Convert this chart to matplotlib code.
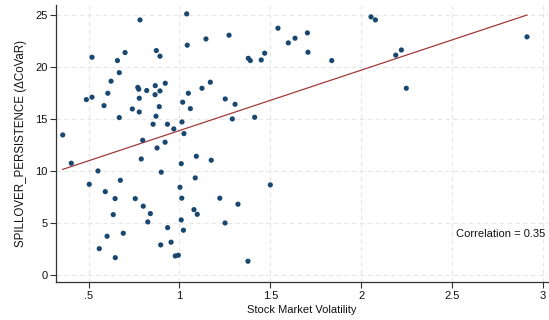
import numpy as np
import matplotlib
matplotlib.use("Agg")
import matplotlib.pyplot as plt

plt.rcParams['font.family'] = ['Liberation Sans', 'DejaVu Sans']

volatility = [0.358, 1.040, 0.783, 1.146, 1.043, 0.519, 0.701, 0.659, 0.873, 0.893,
              0.669, 0.624, 1.170, 0.922, 0.771, 0.776, 0.867, 1.124, 0.820, 0.893,
              0.606, 1.049, 0.866, 0.519, 0.488, 0.779, 1.018, 0.585, 0.889, 1.060,
              0.741, 0.779, 0.669, 0.871, 0.855, 0.934, 0.969, 1.014, 1.025, 0.798,
              0.877, 0.921,
              1.273, 1.542, 1.599, 1.636, 1.704, 1.707, 1.838, 1.379, 1.390, 1.450,
              1.469, 1.252, 1.306, 1.291, 1.414,
              2.054, 2.078, 2.190, 2.221, 2.248, 2.912,
              0.405, 0.552, 0.504, 0.675, 0.592, 0.646, 0.757, 0.801, 0.840, 0.636,
              0.826, 0.602, 0.691, 0.559, 0.647, 0.790, 0.900, 1.010, 1.093, 1.175,
              1.087, 1.003, 1.013, 1.222, 1.080, 1.098, 1.010, 0.935, 1.022, 0.897,
              0.954, 0.977, 0.994,
              1.322, 1.251, 1.500, 1.377]
persistence = [13.43, 25.07, 24.49, 22.66, 22.06, 20.90, 21.35, 20.58, 21.54, 21.00,
               19.42, 18.60, 18.50, 18.40, 18.00, 17.83, 18.17, 17.92, 17.70, 17.66,
               17.44, 17.44, 17.30, 17.06, 16.83, 16.96, 16.58, 16.25, 16.15, 15.96,
               15.93, 15.64, 15.10, 15.23, 14.46, 14.46, 14.01, 14.68, 13.56, 12.92,
               12.18, 12.73,
               23.02, 23.69, 22.28, 22.73, 23.24, 21.38, 20.58, 20.80, 20.58, 20.64,
               21.29, 16.89, 16.38, 14.97, 15.13,
               24.78, 24.49, 21.10, 21.60, 17.92, 22.86,
               10.71, 9.97, 8.69, 9.07, 7.98, 7.31, 7.31, 6.58, 5.87, 5.77,
               5.07, 3.69, 3.98, 2.50, 1.63, 11.12, 9.85, 10.67, 11.38, 11.00,
               9.30, 8.40, 7.35, 7.35, 6.25, 5.80, 5.26, 4.52, 4.27, 2.86,
               3.12, 1.80, 1.87,
               6.77, 4.97, 8.63, 1.29]

x_ticks = [0.5, 1, 1.5, 2, 2.5, 3]
x_tick_labels = ['.5', '1', '1.5', '2', '2.5', '3']
y_ticks = [0, 5, 10, 15, 20, 25]
corr_label = 'Correlation = 0.35'

x = np.array(volatility)
y = np.array(persistence)

fig = plt.figure(figsize=(5.49, 3.20), dpi=100)
ax = fig.add_axes([0.102, 0.118, 0.896, 0.8666])

ax.scatter(x, y, s=14, color='#1a476f', edgecolors='none', zorder=3)

slope, intercept = np.polyfit(x, y, 1)
xs = np.array([x.min(), x.max()])
ax.plot(xs, intercept + slope * xs, color='#a0393c', lw=0.9, zorder=2)

ax.set_xlim(0.321, 3.027)
ax.set_ylim(-0.73, 25.93)
ax.set_xticks(x_ticks)
ax.set_xticklabels(x_tick_labels)
ax.set_yticks(y_ticks)
ax.grid(True, color='#e6e6e6', linestyle=(0, (4, 3)), lw=0.8, zorder=0)
for s in ['top', 'right']:
    ax.spines[s].set_visible(False)
for s in ['left', 'bottom']:
    ax.spines[s].set_color('#333333')
    ax.spines[s].set_linewidth(0.9)
ax.tick_params(direction='out', length=4, width=0.8, color='#333333',
               labelsize=8, labelcolor='#111111', pad=2)
ax.set_xlabel('Stock Market Volatility', fontsize=8, color='#111111', labelpad=3)
ax.set_ylabel('SPILLOVER_PERSISTENCE (\u0394CoVaR)', fontsize=8.3, color='#111111', labelpad=6)
ax.text(0.9945, 0.174, corr_label, transform=ax.transAxes, ha='right', va='center',
        fontsize=8, color='#111111')

fig.savefig('out.png', dpi=100)
